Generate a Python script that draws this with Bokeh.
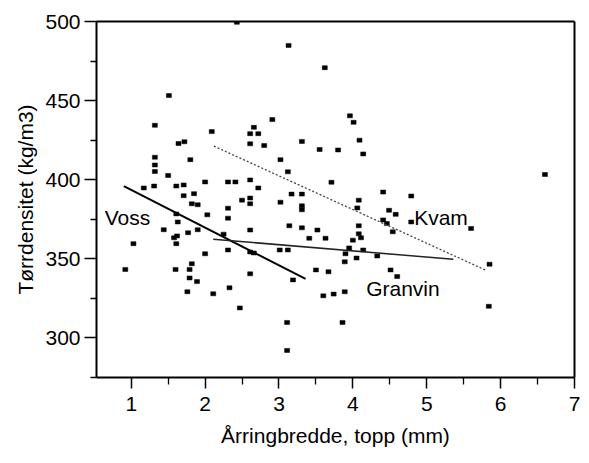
from bokeh.plotting import figure
from bokeh.models import Range1d, FixedTicker, ColumnDataSource, LinearAxis
from bokeh.core.properties import value
from bokeh.embed import file_html
from bokeh.resources import INLINE

# Scatter data: ring width (mm) vs dry density (kg/m3)
ring_width = [
    2.43, 3.13, 3.62, 1.51, 1.32, 2.91, 2.09, 2.66, 2.61, 2.72,
    2.61, 2.80, 3.31, 3.55, 1.64, 1.72, 1.32, 1.32, 1.32, 1.80,
    1.50, 3.02, 3.12, 3.96, 4.01, 4.09, 3.80, 4.14, 6.60, 1.17,
    1.31, 1.61, 1.71, 2.00, 2.31, 2.41, 2.61, 2.72, 1.71, 1.85,
    1.82, 1.90, 2.50, 2.61, 2.61, 3.02, 3.17, 3.31, 3.31, 3.31,
    2.31, 2.03, 1.61, 1.63, 2.31, 3.14, 3.31, 3.52, 1.44, 1.90,
    1.77, 1.62, 1.58, 2.61, 2.25, 3.41, 3.63, 1.03, 1.61, 2.31,
    2.61, 2.66, 3.01, 3.12, 2.00, 0.92, 1.60, 1.82, 1.79, 3.50,
    3.67, 1.79, 1.89, 2.61, 3.19, 1.76, 2.11, 2.33, 3.60, 2.47,
    3.11, 3.11, 3.71, 4.08, 4.41, 4.79, 4.06, 4.49, 4.58, 4.41,
    4.46, 4.79, 4.08, 5.60, 4.54, 4.08, 4.11, 4.00, 3.95, 3.90,
    4.14, 4.33, 4.05, 3.89, 4.51, 4.60, 5.85, 3.74, 3.89, 5.84,
    3.86,
]
density = [
    499.5, 484.9, 470.8, 453.2, 434.4, 438.0, 430.4, 433.1, 429.1, 429.1,
    422.7, 421.6, 424.2, 419.1, 422.9, 424.0, 414.2, 409.3, 405.2, 412.7,
    402.7, 412.7, 405.0, 440.4, 436.3, 425.0, 418.8, 416.3, 403.3, 394.8,
    396.0, 396.0, 396.7, 398.6, 398.6, 398.6, 399.9, 394.8, 389.9, 391.2,
    384.8, 384.2, 387.1, 388.4, 384.8, 385.8, 390.9, 390.9, 383.5, 381.0,
    382.0, 377.8, 378.4, 373.3, 375.7, 370.9, 369.6, 368.2, 368.4, 368.4,
    366.5, 364.5, 363.3, 368.2, 365.6, 363.0, 363.0, 359.6, 359.6, 355.6,
    354.3, 353.7, 355.6, 355.6, 353.2, 343.3, 343.3, 346.9, 343.3, 343.0,
    341.8, 337.9, 335.6, 340.5, 336.7, 329.2, 327.9, 331.7, 326.6, 319.0,
    309.8, 292.1, 398.4, 387.1, 392.2, 389.7, 382.2, 380.7, 378.1, 374.6,
    372.4, 373.3, 370.9, 369.2, 367.1, 365.8, 363.3, 361.8, 356.9, 353.2,
    355.6, 351.8, 350.5, 348.1, 343.0, 338.8, 346.6, 327.7, 329.2, 320.0,
    309.8,
]

# Regression lines (end points)
voss_x = [0.90, 3.36]
voss_y = [396.0, 337.3]
granvin_x = [2.11, 5.36]
granvin_y = [362.4, 349.7]
kvam_x = [2.12, 5.79]
kvam_y = [421.2, 343.0]

line_names = ["Voss", "Kvam", "Granvin"]

x_ticks = [1, 2, 3, 4, 5, 6, 7]
x_minor = [1.5, 2.5, 3.5, 4.5, 5.5, 6.5]
y_ticks = [300, 350, 400, 450, 500]
y_minor = [275, 325, 375, 425, 475]

FONT = "Liberation Sans"

p = figure(width=589, height=463, output_backend="svg", toolbar_location=None,
           x_range=Range1d(0.53, 7.0), y_range=Range1d(275, 500))
p.min_border_left = 96
p.min_border_right = 15
p.min_border_top = 21
p.min_border_bottom = 86
p.background_fill_color = "white"
p.border_fill_color = "white"
p.outline_line_color = None
p.xgrid.visible = False
p.ygrid.visible = False

for ax in (p.xaxis[0], p.yaxis[0]):
    ax.axis_line_width = 2
    ax.axis_line_color = "black"
    ax.major_tick_line_color = "black"
    ax.minor_tick_line_color = "black"
    ax.major_tick_line_width = 1.5
    ax.minor_tick_line_width = 1.3
    ax.major_tick_in = 0
    ax.minor_tick_in = 0
    ax.major_label_text_font = FONT
    ax.major_label_text_font_size = "21px"
    ax.major_label_text_color = "black"
    ax.axis_label_text_font = FONT
    ax.axis_label_text_font_size = "21px"
    ax.axis_label_text_font_style = "normal"
    ax.axis_label_text_color = "black"

p.xaxis[0].ticker = FixedTicker(ticks=x_ticks, minor_ticks=x_minor)
p.yaxis[0].ticker = FixedTicker(ticks=y_ticks, minor_ticks=y_minor)
p.xaxis[0].major_tick_out = 11
p.xaxis[0].minor_tick_out = 7
p.yaxis[0].major_tick_out = 12
p.yaxis[0].minor_tick_out = 6
p.xaxis[0].major_label_standoff = 8
p.yaxis[0].major_label_standoff = 4
p.xaxis[0].axis_label = "Årringbredde, topp (mm)"
p.yaxis[0].axis_label = "Tørrdensitet (kg/m3)"
p.xaxis[0].axis_label_standoff = 10
p.yaxis[0].axis_label_standoff = 5

# plain frame lines on top and right
for side in ("above", "right"):
    fa = LinearAxis(ticker=FixedTicker(ticks=[]))
    fa.axis_line_width = 2
    fa.axis_line_color = "black"
    fa.major_tick_out = 0
    fa.minor_tick_out = 0
    fa.major_tick_in = 0
    fa.minor_tick_in = 0
    fa.major_label_text_font_size = "0px"
    fa.major_label_standoff = 0
    p.add_layout(fa, side)

src = ColumnDataSource(dict(x=ring_width, y=density))
p.rect(x="x", y="y", width=5, height=4, width_units="screen", height_units="screen",
       source=src, fill_color="black", line_color="black", line_width=0.5)

p.line(voss_x, voss_y, line_color="black", line_width=2)
p.line(granvin_x, granvin_y, line_color="#222222", line_width=1.5)
p.line(kvam_x, kvam_y, line_color="#444444", line_width=1.3, line_dash="2 2")

lab_src = ColumnDataSource(dict(x=[0.64, 4.83, 4.18], y=[376.4, 376.4, 331.0], t=line_names))
p.text(x="x", y="y", text="t", source=lab_src, text_font=value(FONT),
       text_font_size="21px", text_color="black", text_align="left",
       text_baseline="alphabetic")

open("out.html", "w").write(file_html(p, INLINE))
